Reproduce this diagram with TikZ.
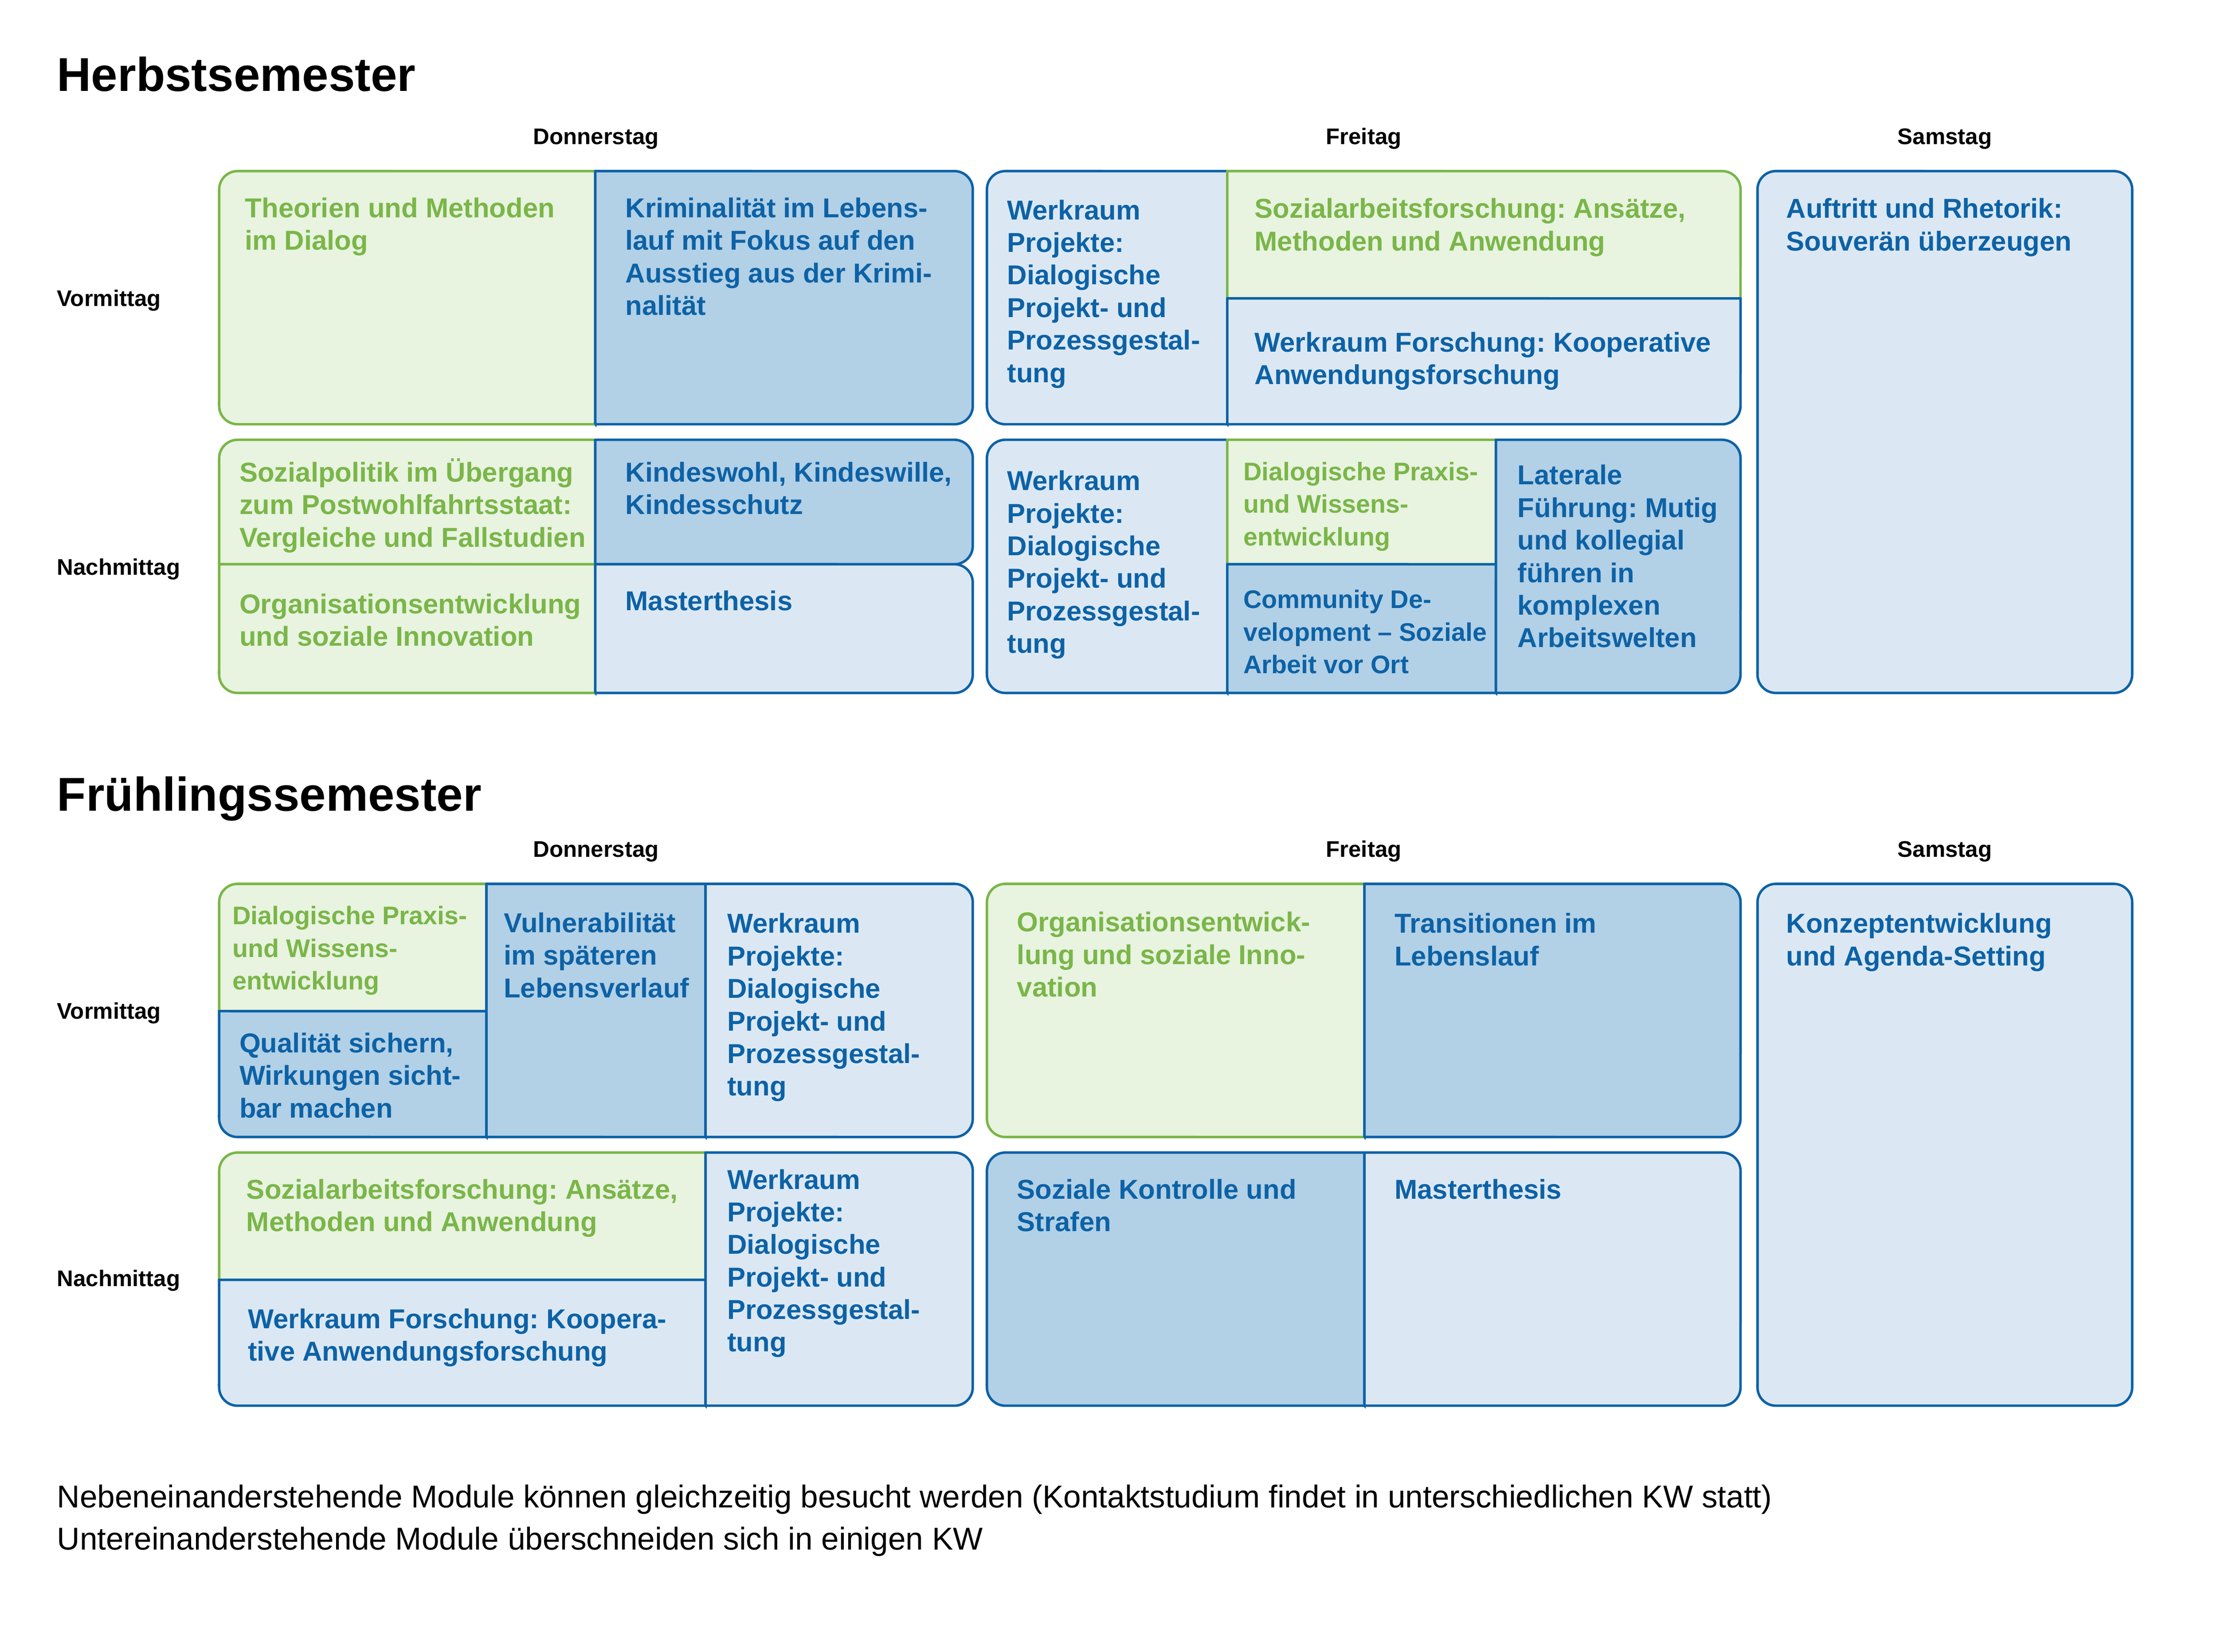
\documentclass[tikz,border=0pt]{standalone}
\usepackage{fontspec}
\setmainfont{Liberation Sans}
\usepackage{xcolor}
\frenchspacing

\definecolor{grn}{HTML}{7AB648}
\definecolor{grnfill}{HTML}{E8F3E0}
\definecolor{blu}{HTML}{0D62A6}
\definecolor{bluA}{HTML}{B2D0E6}
\definecolor{bluB}{HTML}{DBE8F3}

\newcommand\fst{\rule{0pt}{11pt}}
\newcommand\px{0.02cm}
\newcommand\zelle[9]{%
	\draw[#1] (#2,#5-#9) -- (#2,#3+#6) arc[start angle=180,end angle=90,radius={(#6+0.01)*\px}]
		-- (#4-#7,#3) arc[start angle=90,end angle=0,radius={(#7+0.01)*\px}]
		-- (#4,#5-#8) arc[start angle=0,end angle=-90,radius={(#8+0.01)*\px}]
		-- (#2+#9,#5) arc[start angle=270,end angle=180,radius={(#9+0.01)*\px}] -- cycle;}

\begin{document}
\begin{tikzpicture}[x=0.02cm,y=-0.02cm,
	grncell/.style={draw=grn,fill=grnfill,line width=1pt},
	drkcell/.style={draw=blu,fill=bluA,line width=1pt},
	lgtcell/.style={draw=blu,fill=bluB,line width=1pt},
	modtxt/.style={anchor=north west,inner sep=0pt,yshift=10.2pt,align=left,font=\bfseries\fontsize{11}{13.1}\selectfont},
	grntxt/.style={modtxt,text=grn},
	blutxt/.style={modtxt,text=blu},
	engtxt/.style={font=\bfseries\fontsize{10.25}{13.1}\selectfont},
	semtitel/.style={anchor=base west,inner sep=0pt,font=\bfseries\fontsize{19.1}{22}\selectfont},
	kopf/.style={anchor=base,inner sep=0pt,font=\bfseries\fontsize{9.1}{10}\selectfont},
	zeit/.style={anchor=base west,inner sep=0pt,font=\bfseries\fontsize{9.1}{10}\selectfont},
	fuss/.style={anchor=base west,inner sep=0pt,font=\fontsize{12.7}{15}\selectfont}]
	\useasboundingbox (0,0) rectangle (1568,1168);

	\node[semtitel] (herbst) at (40,64.5) {Herbstsemester};
	\node[kopf] (hdo) at (421.5,102) {Donnerstag};
	\node[kopf] (hfr) at (964.5,102) {Freitag};
	\node[kopf] (hsa) at (1375.5,102) {Samstag};
	\node[zeit] (hvm) at (40,216.5) {Vormittag};
	\node[zeit] (hnm) at (40,406.5) {Nachmittag};

	\zelle{grncell}{155}{121}{421}{300}{13}{0}{0}{13}
	\zelle{drkcell}{421}{121}{688}{300}{0}{13}{13}{0}
	\zelle{grncell}{155}{311}{421}{399}{13}{0}{0}{0}
	\zelle{grncell}{155}{399}{421}{490}{0}{0}{0}{13}
	\zelle{drkcell}{421}{311}{688}{399}{0}{13}{13}{0}
	\zelle{lgtcell}{421}{399}{688}{490}{0}{13}{13}{0}
	\zelle{lgtcell}{698}{121}{868}{300}{13}{0}{0}{13}
	\zelle{grncell}{868}{121}{1231}{211}{0}{13}{0}{0}
	\zelle{lgtcell}{868}{211}{1231}{300}{0}{0}{13}{0}
	\zelle{lgtcell}{698}{311}{868}{490}{13}{0}{0}{13}
	\zelle{grncell}{868}{311}{1058}{399}{0}{0}{0}{0}
	\zelle{drkcell}{868}{399}{1058}{490}{0}{0}{0}{0}
	\zelle{drkcell}{1058}{311}{1231}{490}{0}{13}{13}{0}
	\zelle{lgtcell}{1243}{121}{1508}{490}{13}{13}{13}{13}

	\node[grntxt] (theorien) at (173,152) {\fst Theorien und Methoden\\im Dialog};
	\node[blutxt] (krimi) at (442,152) {\fst Kriminalität im Lebens-\\lauf mit Fokus auf den\\Ausstieg aus der Krimi-\\nalität};
	\node[grntxt] (sozpol) at (169,339) {\fst Sozialpolitik im Übergang\\zum Postwohlfahrtsstaat:\\Vergleiche und Fallstudien};
	\node[grntxt] (orgent) at (169,432) {\fst Organisationsentwicklung\\und soziale Innovation};
	\node[blutxt] (kindes) at (442,339) {\fst Kindeswohl, Kindeswille,\\Kindesschutz};
	\node[blutxt] (master) at (442,430) {\fst Masterthesis};
	\node[blutxt] (werkp) at (712,153.5) {\fst Werkraum\\Projekte:\\Dialogische\\Projekt- und\\Prozessgestal-\\tung};
	\node[grntxt] (sozfo) at (887,152.5) {\fst Sozialarbeitsforschung: Ansätze,\\Methoden und Anwendung};
	\node[blutxt] (werkfo) at (887,247) {\fst Werkraum Forschung: Kooperative\\Anwendungsforschung};
	\node[blutxt] (werkpb) at (712,345) {\fst Werkraum\\Projekte:\\Dialogische\\Projekt- und\\Prozessgestal-\\tung};
	\node[grntxt,engtxt] (dialog) at (879,338) {\fst Dialogische Praxis-\\und Wissens-\\entwicklung};
	\node[blutxt,engtxt] (commun) at (879,428.5) {\fst Community De-\\velopment – Soziale\\Arbeit vor Ort};
	\node[blutxt] (lateral) at (1073,341) {\fst Laterale\\Führung: Mutig\\und kollegial\\führen in\\komplexen\\Arbeitswelten};
	\node[blutxt] (auftritt) at (1263,152.5) {\fst Auftritt und Rhetorik:\\Souverän überzeugen};

	\node[semtitel] (fruehling) at (40,573.5) {Frühlingssemester};
	\node[kopf] (fdo) at (421.5,606) {Donnerstag};
	\node[kopf] (ffr) at (964.5,606) {Freitag};
	\node[kopf] (fsa) at (1375.5,606) {Samstag};
	\node[zeit] (fvm) at (40,720.5) {Vormittag};
	\node[zeit] (fnm) at (40,909.5) {Nachmittag};

	\zelle{grncell}{155}{625}{344}{715}{13}{0}{0}{0}
	\zelle{drkcell}{155}{715}{344}{804}{0}{0}{0}{13}
	\zelle{drkcell}{344}{625}{499}{804}{0}{0}{0}{0}
	\zelle{lgtcell}{499}{625}{688}{804}{0}{13}{13}{0}
	\zelle{grncell}{155}{815}{499}{905}{13}{0}{0}{0}
	\zelle{lgtcell}{155}{905}{499}{994}{0}{0}{0}{13}
	\zelle{lgtcell}{499}{815}{688}{994}{0}{13}{13}{0}
	\zelle{grncell}{698}{625}{965}{804}{13}{0}{0}{13}
	\zelle{drkcell}{965}{625}{1231}{804}{0}{13}{13}{0}
	\zelle{drkcell}{698}{815}{965}{994}{13}{0}{0}{13}
	\zelle{lgtcell}{965}{815}{1231}{994}{0}{13}{13}{0}
	\zelle{lgtcell}{1243}{625}{1508}{994}{13}{13}{13}{13}

	\node[grntxt,engtxt] (dialogb) at (164,652) {\fst Dialogische Praxis-\\und Wissens-\\entwicklung};
	\node[blutxt] (qualit) at (169,742.5) {\fst Qualität sichern,\\Wirkungen sicht-\\bar machen};
	\node[blutxt] (vulner) at (356,657.5) {\fst Vulnerabilität\\im späteren\\Lebensverlauf};
	\node[blutxt] (werkpc) at (514,658) {\fst Werkraum\\Projekte:\\Dialogische\\Projekt- und\\Prozessgestal-\\tung};
	\node[grntxt] (sozfob) at (174,846) {\fst Sozialarbeitsforschung: Ansätze,\\Methoden und Anwendung};
	\node[blutxt] (werkfob) at (175,937.5) {\fst Werkraum Forschung: Koopera-\\tive Anwendungsforschung};
	\node[blutxt] (werkpd) at (514,839) {\fst Werkraum\\Projekte:\\Dialogische\\Projekt- und\\Prozessgestal-\\tung};
	\node[grntxt] (orgentb) at (719,657) {\fst Organisationsentwick-\\lung und soziale Inno-\\vation};
	\node[blutxt] (transit) at (986,658) {\fst Transitionen im\\Lebenslauf};
	\node[blutxt] (sozkon) at (719,846) {\fst Soziale Kontrolle und\\Strafen};
	\node[blutxt] (masterb) at (986,846) {\fst Masterthesis};
	\node[blutxt] (konzept) at (1263,658) {\fst Konzeptentwicklung\\und Agenda-Setting};

	\node[fuss] (neben) at (40,1066) {Nebeneinanderstehende Module können gleichzeitig besucht werden (Kontaktstudium findet in unterschiedlichen KW statt)};
	\node[fuss] (unter) at (40,1096) {Untereinanderstehende Module überschneiden sich in einigen KW};
\end{tikzpicture}
\end{document}
